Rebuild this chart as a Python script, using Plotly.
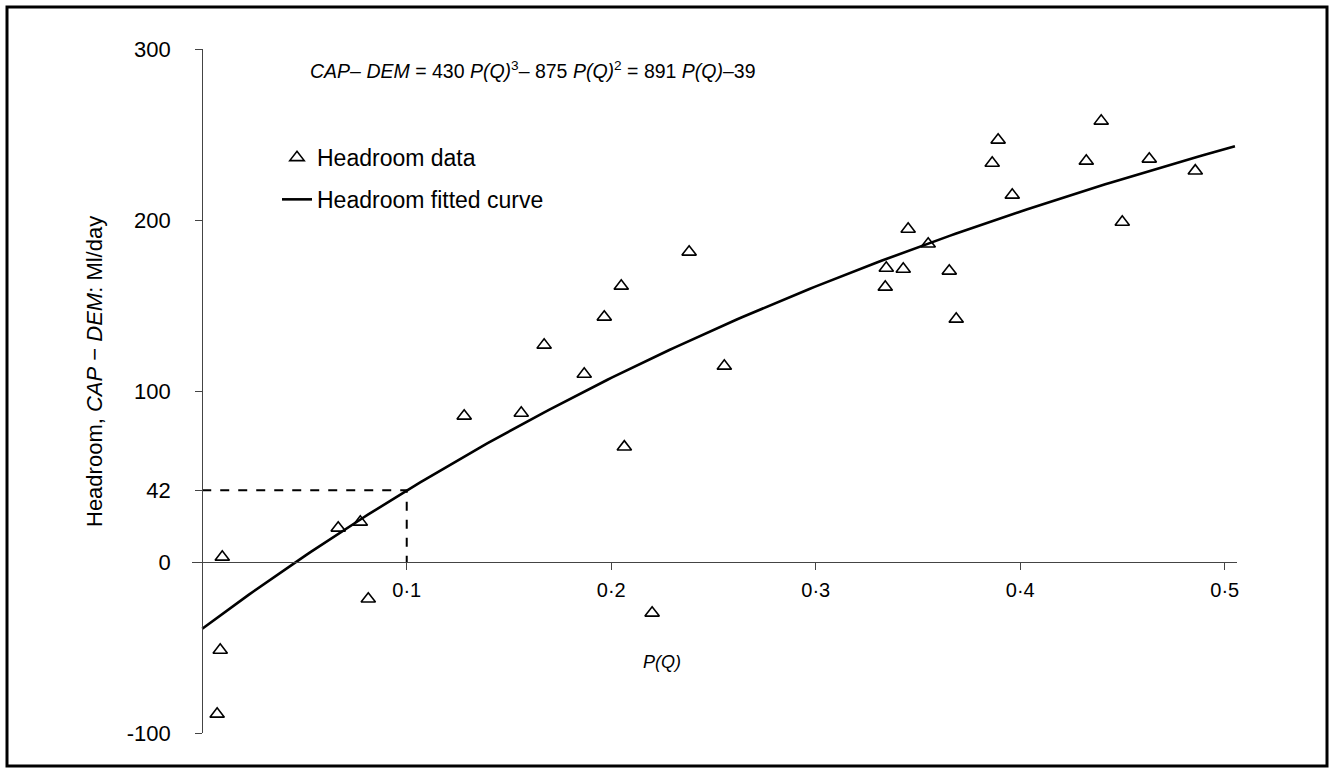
import numpy as np
import plotly.graph_objects as go

# ---- data ----
pq = [0.0098, 0.0088, 0.0073, 0.0665, 0.0773, 0.0812, 0.1281, 0.1560, 0.1672, 0.1868,
      0.1966, 0.2049, 0.2064, 0.2200, 0.2381, 0.2553, 0.3340, 0.3345, 0.3428, 0.3452,
      0.3550, 0.3653, 0.3687, 0.3863, 0.3892, 0.3961, 0.4323, 0.4396, 0.4499, 0.4631,
      0.4856]
headroom = [2.9, -51.5, -88.9, 19.9, 23.4, -21.6, 85.4, 87.1, 126.9, 109.9,
            143.3, 161.4, 67.3, -29.8, 181.3, 114.6, 160.8, 171.9, 171.3, 194.7,
            186.0, 170.2, 142.1, 233.3, 246.8, 214.6, 234.5, 257.9, 198.8, 235.7,
            228.7]

# fitted curve coefficients as printed on the chart (cubic in P(Q))
fit_coeffs = [430, -875, 891, -39]
fit_x_range = [0.0, 0.505]

# design point marked with dashed guide lines
guide_x = [0.0, 0.1, 0.1]
guide_y = [42, 42, 0]

x_tick_vals = [0.1, 0.2, 0.3, 0.4, 0.5]
x_tick_text = ["0·1", "0·2", "0·3", "0·4", "0·5"]
y_tick_vals = [-100, 0, 42, 100, 200, 300]
y_tick_text = ["-100", "0", "42", "100", "200", "300"]

X_RANGE = [-0.005, 0.506]
Y_RANGE = [-100, 300]

# ---- layout geometry (pixels) ----
W, H = 1334, 773
L, R, T, B = 192, W - 1237, 49, H - 733
PW, PH = W - L - R, H - T - B
FONT = "Liberation Sans, Arial, sans-serif"


def px_x(p):
    return (p - L) / PW


def px_y(p):
    return (H - B - p) / PH


fit_x = np.linspace(fit_x_range[0], fit_x_range[1], 200)
fit_y = np.polyval(fit_coeffs, fit_x)

fig = go.Figure()
fig.add_trace(go.Scatter(
    x=guide_x, y=guide_y, mode="lines",
    line=dict(color="black", width=2, dash="dash"),
    showlegend=False, hoverinfo="skip"))
fig.add_trace(go.Scatter(
    x=pq, y=headroom, mode="markers", name="Headroom data",
    marker=dict(symbol="triangle-up-open", size=12.5, color="black",
                line=dict(width=1.6, color="black")),
    legendgroup="a"))
fig.add_trace(go.Scatter(
    x=fit_x, y=fit_y, mode="lines", name="Headroom fitted curve",
    line=dict(color="black", width=2.6), legendgroup="b"))

x0_pos = (0 - X_RANGE[0]) / (X_RANGE[1] - X_RANGE[0])
y0_pos = (0 - Y_RANGE[0]) / (Y_RANGE[1] - Y_RANGE[0])

fig.update_layout(
    width=W, height=H,
    margin=dict(l=L, r=R, t=T, b=B),
    paper_bgcolor="white", plot_bgcolor="white",
    font=dict(family=FONT, color="black"),
    xaxis=dict(range=X_RANGE, domain=[0, 1], anchor="free", position=y0_pos,
               showgrid=False, zeroline=False, showline=True,
               linecolor="#444", linewidth=1,
               ticks="outside", ticklen=7, tickcolor="#444",
               tickvals=x_tick_vals, ticktext=x_tick_text,
               tickfont=dict(size=20, family=FONT), ticklabelstandoff=3),
    yaxis=dict(range=Y_RANGE, domain=[0, 1], anchor="free", position=x0_pos,
               showgrid=False, zeroline=False, showline=True,
               linecolor="#444", linewidth=1,
               ticks="outside", ticklen=7, tickcolor="#444",
               tickvals=y_tick_vals, ticktext=y_tick_text,
               tickfont=dict(size=22, family=FONT), ticklabelstandoff=20),
    legend=dict(x=px_x(277), y=px_y(136), xanchor="left", yanchor="top",
                font=dict(size=23, family=FONT), bgcolor="rgba(0,0,0,0)",
                traceorder="grouped", tracegroupgap=9),
    showlegend=True,
)

fig.add_annotation(
    text="Headroom, <i>CAP</i> − <i>DEM</i>: Ml/day",
    xref="paper", yref="paper", x=px_x(94), y=px_y(372),
    xanchor="center", yanchor="middle", textangle=-90,
    showarrow=False, font=dict(size=22, family=FONT))

fig.add_annotation(
    text="<i>P(Q)</i>",
    xref="paper", yref="paper", x=px_x(662), y=px_y(662),
    xanchor="center", yanchor="middle",
    showarrow=False, font=dict(size=18, family=FONT))

fig.add_annotation(
    text=("<i>CAP</i>– <i>DEM</i> = 430 <i>P(Q)</i><sup>3</sup>– 875 "
          "<i>P(Q)</i><sup>2</sup> = 891 <i>P(Q)</i>–39"),
    xref="paper", yref="paper", x=px_x(308), y=px_y(70),
    xanchor="left", yanchor="middle",
    showarrow=False, font=dict(size=19.5, family=FONT))

# page frame
fig.add_shape(type="rect", xref="paper", yref="paper",
              x0=px_x(7), x1=px_x(1327), y0=px_y(766), y1=px_y(7),
              line=dict(color="black", width=3), fillcolor="rgba(0,0,0,0)",
              layer="above")

fig.write_html("out.html", config={"displayModeBar": False},
               post_script="document.body.style.margin='0';document.body.style.overflow='hidden';")
